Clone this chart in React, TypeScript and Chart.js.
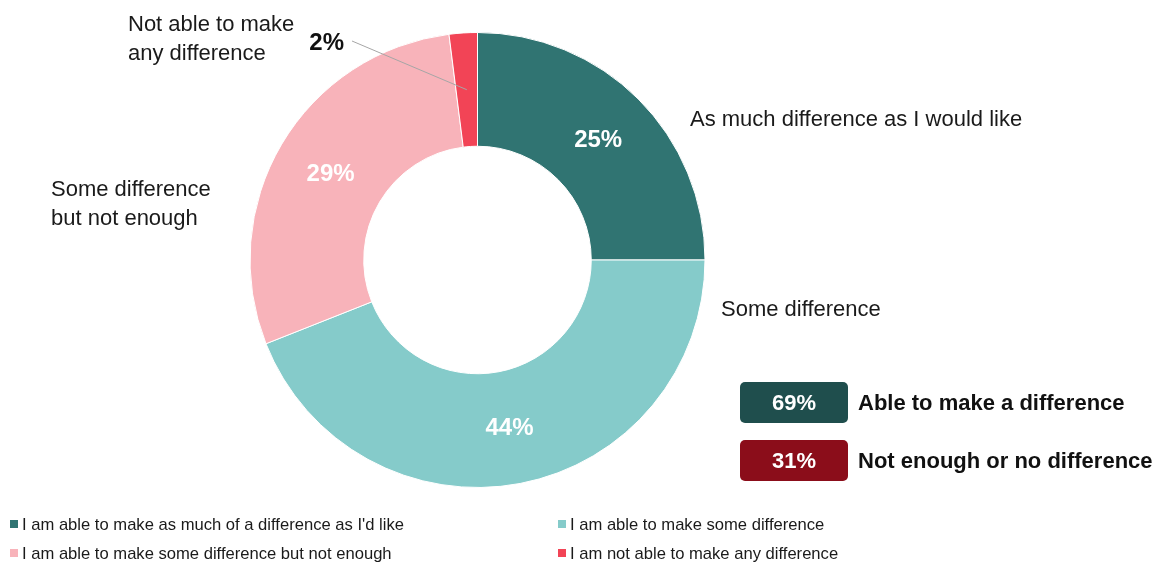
import React, { useEffect, useRef } from "react";
import { Chart, registerables } from "chart.js";

Chart.register(...registerables);

const categories = [
  "I am able to make as much of a difference as I'd like",
  "I am able to make some difference",
  "I am able to make some difference but not enough",
  "I am not able to make any difference",
];
const values = [25, 44, 29, 2];
const valueLabels = ["25%", "44%", "29%", "2%"];
const sliceLabels = [
  ["As much difference as I would like"],
  ["Some difference"],
  ["Some difference", "but not enough"],
  ["Not able to make", "any difference"],
];
const colors = ["#307472", "#85cbca", "#f8b3ba", "#f24456"];
const summaryValues = ["69%", "31%"];
const summaryLabels = ["Able to make a difference", "Not enough or no difference"];
const summaryColors = ["#1f4e4d", "#8b0d1a"];

// layout (annotation positions)
const sliceLabelPos = [
  { x: 690, y: 119 },
  { x: 721, y: 309 },
  { x: 51, y: 189 },
  { x: 128, y: 24 },
];
const FONT = "'Liberation Sans', Arial, sans-serif";

const labelPlugin = {
  id: "customLabels",
  afterDatasetsDraw(chart: any) {
    const ctx = chart.ctx;
    const meta = chart.getDatasetMeta(0);
    ctx.save();
    // values
    meta.data.forEach((arc: any, i: number) => {
      const p = arc.tooltipPosition();
      if (values[i] < 5) {
        // outside label with leader line
        ctx.strokeStyle = "#a6a6a6";
        ctx.lineWidth = 1;
        ctx.beginPath();
        ctx.moveTo(352, 41);
        ctx.lineTo(p.x, p.y);
        ctx.stroke();
        ctx.fillStyle = "#111111";
        ctx.font = `bold 24px ${FONT}`;
        ctx.textAlign = "right";
        ctx.textBaseline = "middle";
        ctx.fillText(valueLabels[i], 344, 43);
      } else {
        ctx.fillStyle = "#ffffff";
        ctx.font = `bold 24px ${FONT}`;
        ctx.textAlign = "center";
        ctx.textBaseline = "middle";
        ctx.fillText(valueLabels[i], p.x, p.y + 1);
      }
    });
    // slice category labels
    ctx.fillStyle = "#1a1a1a";
    ctx.font = `22px ${FONT}`;
    ctx.textAlign = "left";
    ctx.textBaseline = "middle";
    sliceLabels.forEach((lines, i) => {
      lines.forEach((t, j) => {
        ctx.fillText(t, sliceLabelPos[i].x, sliceLabelPos[i].y + 1 + j * 29);
      });
    });
    // summary boxes
    summaryValues.forEach((v, i) => {
      const bx = 740, by = 382 + i * 58, bw = 108, bh = 41;
      ctx.fillStyle = summaryColors[i];
      ctx.beginPath();
      (ctx as any).roundRect(bx, by, bw, bh, 5);
      ctx.fill();
      ctx.fillStyle = "#ffffff";
      ctx.font = `bold 22px ${FONT}`;
      ctx.textAlign = "center";
      ctx.textBaseline = "middle";
      ctx.fillText(v, bx + bw / 2, by + bh / 2 + 1);
      ctx.fillStyle = "#111111";
      ctx.font = `bold 22px ${FONT}`;
      ctx.textAlign = "left";
      ctx.fillText(summaryLabels[i], 858, by + bh / 2 + 1);
    });
    // legend
    ctx.font = `16.6px ${FONT}`;
    ctx.textAlign = "left";
    ctx.textBaseline = "middle";
    categories.forEach((c, i) => {
      const col = i % 2;
      const row = Math.floor(i / 2);
      const x = col === 0 ? 10 : 558;
      const y = 524 + row * 29;
      ctx.fillStyle = colors[i];
      ctx.fillRect(x, y - 4, 8, 8);
      ctx.fillStyle = "#1a1a1a";
      ctx.fillText(c, x + 12, y + 1);
    });
    ctx.restore();
  },
};

export default function App() {
  const ref = useRef<HTMLCanvasElement | null>(null);
  useEffect(() => {
    document.body.style.margin = "0";
    const chart = new Chart(ref.current as HTMLCanvasElement, {
      type: "doughnut",
      data: {
        labels: categories,
        datasets: [
          {
            data: values,
            backgroundColor: colors,
            borderColor: "#ffffff",
            borderWidth: 1,
          },
        ],
      },
      options: {
        responsive: false,
        animation: false,
        cutout: "50%",
        rotation: 0,
        layout: { padding: { left: 249, right: 451, top: 32, bottom: 75 } },
        plugins: {
          legend: { display: false },
          tooltip: { enabled: false },
        },
      },
      plugins: [labelPlugin],
    });
    return () => chart.destroy();
  }, []);
  return (
    <div style={{ position: "absolute", left: 0, top: 0, width: 1157, height: 563, background: "#fff" }}>
      <canvas ref={ref} width={1157} height={563} />
    </div>
  );
}
